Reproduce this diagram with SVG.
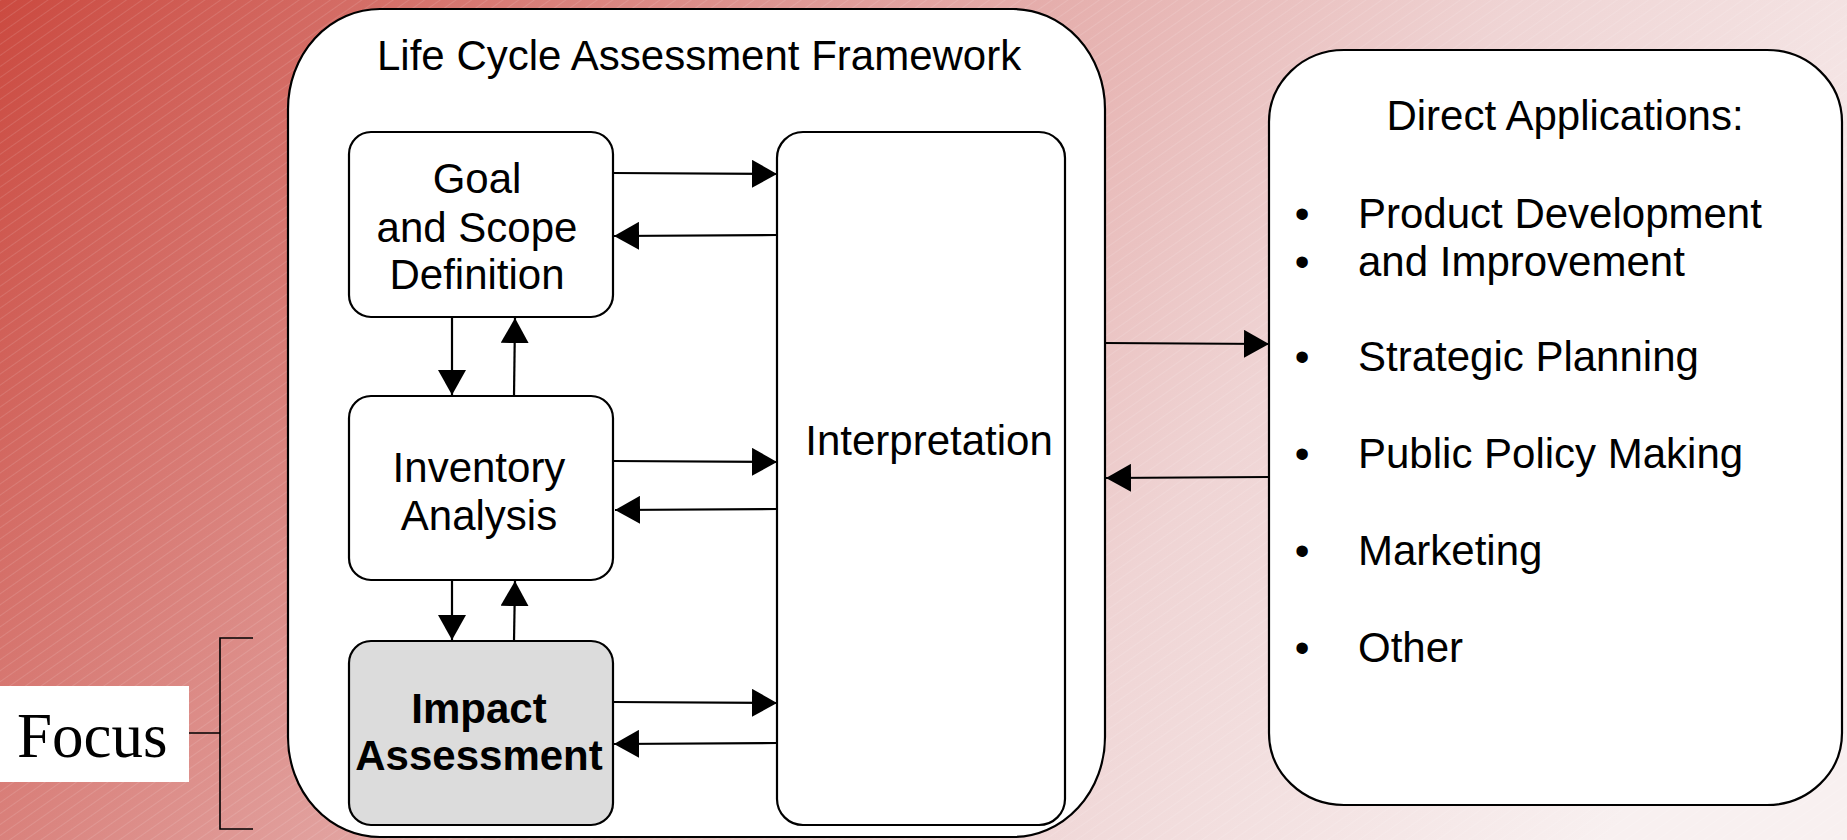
<svg xmlns="http://www.w3.org/2000/svg" width="1847" height="840" viewBox="0 0 1847 840">
<style>
.box{fill:#ffffff;stroke:#000000;stroke-width:2.2}
.imp{fill:#dcdcdc;stroke:#000000;stroke-width:2.2}
.t{font-family:"Liberation Sans",Arial,sans-serif;font-size:42px;fill:#000000}
.tc{text-anchor:middle}
.b{font-weight:bold}
.con{stroke:#000000;stroke-width:2.2;fill:none;marker-end:url(#ah)}
.br{stroke:#000000;stroke-width:1.6;fill:none}
</style>
<defs>
<linearGradient id="bg" gradientUnits="userSpaceOnUse" x1="0" y1="0" x2="1500" y2="1000">
<stop offset="0" stop-color="#cb4a40"/>
<stop offset="0.4" stop-color="#e19f9c"/>
<stop offset="0.7" stop-color="#efd4d4"/>
<stop offset="1" stop-color="#f8f0f0"/>
</linearGradient>
<pattern id="hatch" patternUnits="userSpaceOnUse" width="9" height="9" patternTransform="rotate(-35)">
<line x1="0" y1="0" x2="9" y2="0" stroke="#ffffff" stroke-opacity="0.2" stroke-width="1.2"/>
</pattern>
<marker id="ah" viewBox="0 0 25 28" refX="25" refY="14" markerWidth="25" markerHeight="28" markerUnits="userSpaceOnUse" orient="auto">
<path d="M0,0 L25,14 L0,28 Z" fill="#000000"/>
</marker>
</defs>
<rect x="0" y="0" width="1847" height="840" fill="url(#bg)"/>
<rect x="0" y="0" width="1847" height="840" fill="url(#hatch)"/>

<g id="lca-framework">
<rect class="box" x="288" y="9" width="817" height="828" rx="92" ry="100"/>
<text class="t" x="377" y="70">Life Cycle Assessment Framework</text>
</g>

<g id="goal">
<rect class="box" x="349" y="132" width="264" height="185" rx="22" ry="22"/>
<text class="t tc" x="477" y="193">Goal</text>
<text class="t tc" x="477" y="242">and Scope</text>
<text class="t tc" x="477" y="289">Definition</text>
</g>

<g id="inventory">
<rect class="box" x="349" y="396" width="264" height="184" rx="22" ry="22"/>
<text class="t tc" x="479" y="482">Inventory</text>
<text class="t tc" x="479" y="530">Analysis</text>
</g>

<g id="impact">
<rect class="imp" x="349" y="641" width="264" height="184" rx="22" ry="22"/>
<text class="t tc b" x="479" y="723">Impact</text>
<text class="t tc b" x="479" y="770">Assessment</text>
</g>

<g id="interpretation">
<rect class="box" x="777" y="132" width="288" height="693" rx="26" ry="26"/>
<text class="t tc" x="929" y="455">Interpretation</text>
</g>

<g id="direct-applications">
<rect class="box" x="1269" y="50" width="573" height="755" rx="75" ry="72"/>
<text class="t tc" x="1565" y="130">Direct Applications:</text>
<g class="t tc">
<text x="1302" y="228">•</text>
<text x="1302" y="276">•</text>
<text x="1302" y="371">•</text>
<text x="1302" y="468">•</text>
<text x="1302" y="565">•</text>
<text x="1302" y="662">•</text>
</g>
<text class="t" x="1358" y="228">Product Development</text>
<text class="t" x="1358" y="276">and Improvement</text>
<text class="t" x="1358" y="371">Strategic Planning</text>
<text class="t" x="1358" y="468">Public Policy Making</text>
<text class="t" x="1358" y="565">Marketing</text>
<text class="t" x="1358" y="662">Other</text>
</g>

<g id="focus">
<rect x="0" y="686" width="189" height="96" fill="#ffffff"/>
<text x="17" y="757" font-family="'Liberation Serif','Times New Roman',serif" font-size="63" fill="#000000">Focus</text>
<path class="br" d="M189,733 H220 M253,638 H220 V829 H253"/>
</g>

<g id="connectors">
<line class="con" x1="613" y1="173" x2="777" y2="174"/>
<line class="con" x1="777" y1="235" x2="614" y2="236"/>
<line class="con" x1="452" y1="317" x2="452" y2="395"/>
<line class="con" x1="514" y1="396" x2="515" y2="318"/>
<line class="con" x1="613" y1="461" x2="777" y2="462"/>
<line class="con" x1="777" y1="509" x2="615" y2="510"/>
<line class="con" x1="452" y1="580" x2="452" y2="640"/>
<line class="con" x1="514" y1="641" x2="515" y2="581"/>
<line class="con" x1="613" y1="702" x2="777" y2="703"/>
<line class="con" x1="777" y1="743" x2="614" y2="744"/>
<line class="con" x1="1105" y1="343" x2="1269" y2="344"/>
<line class="con" x1="1269" y1="477" x2="1106" y2="478"/>
</g>
</svg>
